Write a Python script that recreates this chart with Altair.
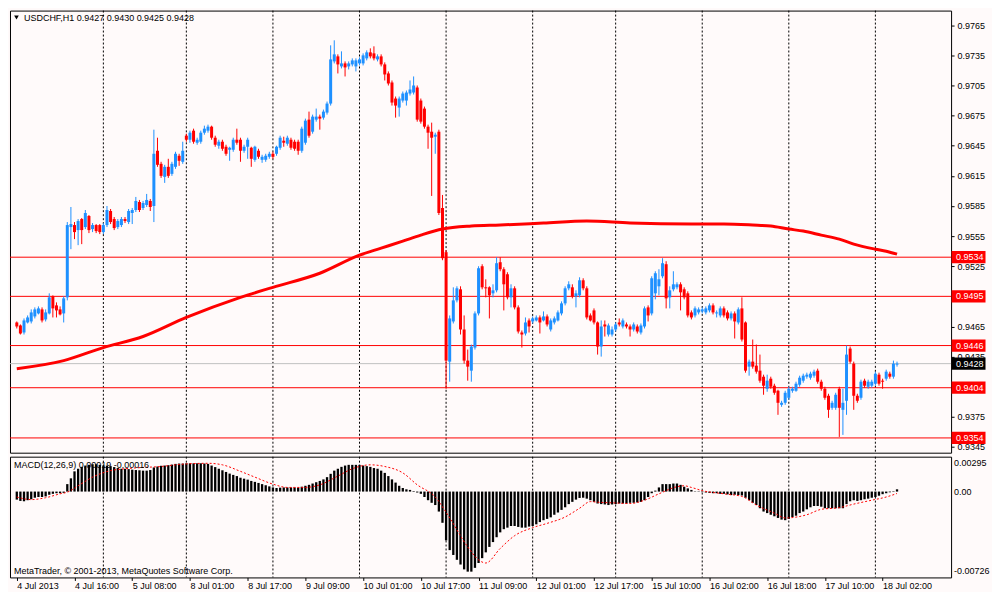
import json
import altair as alt
import pandas as pd

# ---------------- data ----------------
O = [
0.9469,0.9466,0.9459,0.9469,0.9470,0.9475,0.9478,0.9482,0.9472,0.9478,
0.9495,0.9486,0.9482,0.9478,0.9494,0.9564,0.9566,0.9561,0.9572,0.9564,
0.9575,0.9562,0.9566,0.9566,0.9559,0.9566,0.9580,0.9572,0.9564,0.9566,
0.9572,0.9569,0.9578,0.9581,0.9589,0.9583,0.9586,0.9590,0.9585,0.9640,
0.9627,0.9614,0.9624,0.9617,0.9624,0.9635,0.9629,0.9655,0.9651,0.9660,
0.9648,0.9649,0.9658,0.9660,0.9664,0.9653,0.9645,0.9649,0.9644,0.9641,
0.9641,0.9651,0.9651,0.9640,0.9644,0.9643,0.9631,0.9640,0.9631,0.9631,
0.9634,0.9637,0.9637,0.9643,0.9650,0.9647,0.9651,0.9649,0.9649,0.9640,
0.9648,0.9671,0.9659,0.9671,0.9674,0.9673,0.9678,0.9687,0.9729,0.9734,
0.9724,0.9727,0.9724,0.9726,0.9724,0.9727,0.9727,0.9732,0.9738,0.9737,
0.9731,0.9734,0.9726,0.9717,0.9708,0.9692,0.9683,0.9690,0.9690,0.9697,
0.9698,0.9703,0.9690,0.9682,0.9664,0.9659,0.9654,0.9659,0.9583,0.9539,
0.9430,0.9470,0.9491,0.9502,0.9462,0.9431,0.9421,0.9444,0.9478,0.9525,
0.9504,0.9504,0.9498,0.9501,0.9529,0.9522,0.9517,0.9494,0.9503,0.9484,
0.9459,0.9458,0.9471,0.9470,0.9471,0.9474,0.9471,0.9475,0.9462,0.9469,
0.9471,0.9478,0.9488,0.9503,0.9504,0.9495,0.9496,0.9511,0.9503,0.9476,
0.9481,0.9469,0.9445,0.9467,0.9457,0.9457,0.9462,0.9469,0.9465,0.9467,
0.9465,0.9462,0.9465,0.9459,0.9465,0.9484,0.9478,0.9498,0.9505,0.9515,
0.9527,0.9494,0.9502,0.9504,0.9507,0.9502,0.9498,0.9479,0.9476,0.9479,
0.9480,0.9479,0.9481,0.9486,0.9478,0.9476,0.9483,0.9479,0.9473,0.9478,
0.9469,0.9483,0.9469,0.9425,0.9430,0.9426,0.9421,0.9415,0.9403,0.9413,
0.9406,0.9401,0.9387,0.9389,0.9394,0.9401,0.9401,0.9407,0.9411,0.9415,
0.9414,0.9416,0.9421,0.9410,0.9403,0.9396,0.9384,0.9384,0.9403,0.9382,
0.9391,0.9443,0.9428,0.9396,0.9394,0.9411,0.9405,0.9406,0.9408,0.9417,
0.9411,0.9413,0.9418,0.9415,0.9427]
H = [
0.9470,0.9467,0.9473,0.9476,0.9482,0.9484,0.9485,0.9484,0.9482,0.9498,
0.9496,0.9489,0.9485,0.9495,0.9569,0.9584,0.9569,0.9572,0.9573,0.9581,
0.9576,0.9568,0.9567,0.9567,0.9568,0.9585,0.9582,0.9574,0.9572,0.9574,
0.9574,0.9582,0.9583,0.9594,0.9591,0.9590,0.9597,0.9592,0.9661,0.9653,
0.9629,0.9626,0.9632,0.9629,0.9639,0.9637,0.9649,0.9657,0.9660,0.9662,
0.9653,0.9660,0.9665,0.9666,0.9665,0.9655,0.9651,0.9651,0.9646,0.9644,
0.9653,0.9662,0.9653,0.9646,0.9653,0.9644,0.9645,0.9642,0.9636,0.9637,
0.9639,0.9639,0.9645,0.9655,0.9654,0.9655,0.9653,0.9651,0.9651,0.9664,
0.9672,0.9679,0.9676,0.9682,0.9676,0.9681,0.9689,0.9745,0.9750,0.9736,
0.9739,0.9729,0.9729,0.9732,0.9732,0.9733,0.9737,0.9740,0.9742,0.9744,
0.9736,0.9736,0.9728,0.9719,0.9710,0.9694,0.9694,0.9699,0.9700,0.9710,
0.9714,0.9705,0.9692,0.9684,0.9666,0.9668,0.9658,0.9661,0.9596,0.9541,
0.9476,0.9504,0.9505,0.9505,0.9476,0.9442,0.9447,0.9480,0.9525,0.9527,
0.9512,0.9505,0.9507,0.9534,0.9534,0.9524,0.9519,0.9507,0.9505,0.9486,
0.9461,0.9474,0.9473,0.9475,0.9476,0.9476,0.9480,0.9477,0.9473,0.9475,
0.9481,0.9490,0.9505,0.9510,0.9507,0.9501,0.9514,0.9513,0.9505,0.9478,
0.9483,0.9470,0.9471,0.9471,0.9468,0.9465,0.9469,0.9473,0.9473,0.9469,
0.9467,0.9469,0.9467,0.9468,0.9485,0.9486,0.9515,0.9520,0.9522,0.9533,
0.9530,0.9505,0.9520,0.9509,0.9509,0.9504,0.9500,0.9481,0.9485,0.9484,
0.9484,0.9485,0.9488,0.9488,0.9481,0.9485,0.9485,0.9481,0.9480,0.9480,
0.9484,0.9494,0.9470,0.9432,0.9452,0.9447,0.9437,0.9417,0.9417,0.9415,
0.9408,0.9402,0.9391,0.9401,0.9405,0.9405,0.9410,0.9416,0.9418,0.9419,
0.9420,0.9422,0.9423,0.9412,0.9405,0.9398,0.9391,0.9399,0.9405,0.9403,
0.9446,0.9445,0.9430,0.9398,0.9412,0.9413,0.9412,0.9412,0.9420,0.9419,
0.9413,0.9422,0.9420,0.9431,0.9430]
L = [
0.9463,0.9457,0.9457,0.9468,0.9468,0.9473,0.9477,0.9469,0.9470,0.9477,
0.9474,0.9474,0.9476,0.9469,0.9491,0.9542,0.9552,0.9546,0.9547,0.9562,
0.9558,0.9559,0.9558,0.9557,0.9557,0.9564,0.9567,0.9561,0.9562,0.9564,
0.9568,0.9567,0.9567,0.9579,0.9579,0.9581,0.9584,0.9580,0.9569,0.9624,
0.9613,0.9608,0.9613,0.9615,0.9622,0.9625,0.9627,0.9649,0.9648,0.9647,
0.9646,0.9647,0.9656,0.9658,0.9651,0.9644,0.9642,0.9640,0.9635,0.9630,
0.9639,0.9646,0.9629,0.9638,0.9632,0.9624,0.9629,0.9632,0.9628,0.9629,
0.9632,0.9632,0.9635,0.9641,0.9644,0.9645,0.9641,0.9640,0.9636,0.9638,
0.9646,0.9653,0.9657,0.9669,0.9661,0.9671,0.9676,0.9685,0.9727,0.9717,
0.9722,0.9714,0.9721,0.9724,0.9719,0.9725,0.9725,0.9730,0.9732,0.9730,
0.9729,0.9724,0.9710,0.9705,0.9685,0.9673,0.9674,0.9688,0.9685,0.9695,
0.9696,0.9669,0.9667,0.9662,0.9642,0.9595,0.9637,0.9576,0.9531,0.9403,
0.9410,0.9468,0.9489,0.9457,0.9428,0.9411,0.9410,0.9442,0.9476,0.9502,
0.9494,0.9473,0.9494,0.9499,0.9520,0.9481,0.9492,0.9484,0.9482,0.9458,
0.9444,0.9456,0.9459,0.9468,0.9470,0.9458,0.9470,0.9465,0.9460,0.9467,
0.9470,0.9476,0.9486,0.9501,0.9493,0.9484,0.9494,0.9501,0.9472,0.9470,
0.9467,0.9437,0.9435,0.9455,0.9455,0.9455,0.9460,0.9465,0.9463,0.9463,
0.9455,0.9460,0.9458,0.9457,0.9463,0.9470,0.9476,0.9492,0.9496,0.9513,
0.9483,0.9483,0.9500,0.9502,0.9481,0.9492,0.9474,0.9472,0.9474,0.9477,
0.9478,0.9477,0.9479,0.9477,0.9474,0.9474,0.9474,0.9471,0.9471,0.9453,
0.9467,0.9450,0.9419,0.9416,0.9423,0.9418,0.9409,0.9397,0.9400,0.9403,
0.9397,0.9377,0.9385,0.9387,0.9392,0.9399,0.9400,0.9405,0.9409,0.9413,
0.9412,0.9414,0.9408,0.9401,0.9392,0.9374,0.9382,0.9382,0.9355,0.9357,
0.9377,0.9428,0.9382,0.9389,0.9392,0.9404,0.9403,0.9404,0.9406,0.9406,
0.9403,0.9411,0.9413,0.9413,0.9425]
C = [
0.9465,0.9458,0.9471,0.9474,0.9479,0.9482,0.9483,0.9471,0.9479,0.9494,
0.9483,0.9481,0.9477,0.9493,0.9566,0.9567,0.9559,0.9570,0.9561,0.9578,
0.9561,0.9566,0.9560,0.9559,0.9566,0.9581,0.9569,0.9563,0.9570,0.9572,
0.9570,0.9580,0.9581,0.9590,0.9581,0.9588,0.9591,0.9584,0.9637,0.9626,
0.9615,0.9624,0.9615,0.9627,0.9637,0.9630,0.9640,0.9651,0.9658,0.9649,
0.9651,0.9658,0.9662,0.9664,0.9653,0.9646,0.9649,0.9642,0.9637,0.9643,
0.9651,0.9648,0.9640,0.9644,0.9651,0.9632,0.9644,0.9634,0.9634,0.9635,
0.9637,0.9634,0.9644,0.9653,0.9648,0.9653,0.9643,0.9642,0.9640,0.9662,
0.9670,0.9655,0.9674,0.9674,0.9672,0.9679,0.9687,0.9731,0.9736,0.9726,
0.9727,0.9723,0.9727,0.9730,0.9730,0.9731,0.9735,0.9738,0.9734,0.9732,
0.9734,0.9726,0.9716,0.9707,0.9688,0.9685,0.9692,0.9697,0.9698,0.9701,
0.9705,0.9671,0.9669,0.9664,0.9658,0.9653,0.9656,0.9578,0.9533,0.9431,
0.9473,0.9491,0.9503,0.9462,0.9431,0.9425,0.9445,0.9478,0.9523,0.9504,
0.9503,0.9496,0.9501,0.9528,0.9522,0.9507,0.9494,0.9503,0.9484,0.9460,
0.9457,0.9469,0.9465,0.9473,0.9474,0.9469,0.9475,0.9467,0.9471,0.9473,
0.9479,0.9488,0.9503,0.9507,0.9495,0.9498,0.9511,0.9503,0.9474,0.9471,
0.9469,0.9445,0.9465,0.9465,0.9466,0.9462,0.9467,0.9467,0.9471,0.9465,
0.9462,0.9467,0.9460,0.9466,0.9483,0.9476,0.9513,0.9518,0.9512,0.9528,
0.9493,0.9501,0.9507,0.9507,0.9499,0.9494,0.9476,0.9474,0.9483,0.9482,
0.9482,0.9483,0.9486,0.9479,0.9479,0.9483,0.9476,0.9473,0.9478,0.9470,
0.9482,0.9452,0.9421,0.9430,0.9425,0.9420,0.9411,0.9406,0.9411,0.9405,
0.9399,0.9389,0.9389,0.9399,0.9403,0.9403,0.9408,0.9414,0.9416,0.9417,
0.9418,0.9420,0.9410,0.9403,0.9394,0.9382,0.9389,0.9397,0.9384,0.9389,
0.9437,0.9430,0.9396,0.9391,0.9410,0.9406,0.9410,0.9410,0.9418,0.9408,
0.9410,0.9420,0.9415,0.9428,0.9428]

MACD = [
-0.00068,-0.00079,-0.00082,-0.00073,-0.00065,-0.00052,-0.00046,-0.00046,-0.00041,-0.00027,
-0.00019,-0.00014,-0.00014,-0.00011,0.00063,0.00112,0.00171,0.00193,0.00209,0.00220,
0.00226,0.00231,0.00231,0.00226,0.00220,0.00220,0.00215,0.00207,0.00199,0.00193,
0.00193,0.00190,0.00185,0.00182,0.00180,0.00177,0.00177,0.00182,0.00204,0.00212,
0.00218,0.00220,0.00223,0.00228,0.00234,0.00237,0.00237,0.00239,0.00239,0.00239,
0.00239,0.00239,0.00237,0.00234,0.00220,0.00207,0.00193,0.00180,0.00166,0.00152,
0.00141,0.00131,0.00117,0.00109,0.00101,0.00090,0.00082,0.00073,0.00063,0.00054,
0.00044,0.00035,0.00030,0.00033,0.00035,0.00035,0.00035,0.00035,0.00033,0.00041,
0.00049,0.00057,0.00068,0.00079,0.00090,0.00103,0.00122,0.00150,0.00177,0.00193,
0.00209,0.00220,0.00226,0.00226,0.00226,0.00226,0.00220,0.00215,0.00209,0.00199,
0.00193,0.00177,0.00158,0.00131,0.00103,0.00076,0.00049,0.00030,0.00019,0.00014,
0.00005,-0.00008,-0.00019,-0.00046,-0.00073,-0.00095,-0.00114,-0.00169,-0.00264,-0.00413,
-0.00495,-0.00536,-0.00577,-0.00617,-0.00658,-0.00677,-0.00677,-0.00645,-0.00604,-0.00563,
-0.00514,-0.00468,-0.00427,-0.00386,-0.00345,-0.00318,-0.00305,-0.00291,-0.00291,-0.00299,
-0.00305,-0.00305,-0.00296,-0.00291,-0.00277,-0.00258,-0.00242,-0.00231,-0.00218,-0.00196,
-0.00177,-0.00155,-0.00133,-0.00106,-0.00087,-0.00068,-0.00054,-0.00052,-0.00060,-0.00073,
-0.00087,-0.00101,-0.00106,-0.00109,-0.00114,-0.00109,-0.00106,-0.00101,-0.00101,-0.00101,
-0.00095,-0.00095,-0.00092,-0.00087,-0.00073,-0.00046,-0.00014,0.00008,0.00035,0.00063,
0.00063,0.00063,0.00068,0.00068,0.00057,0.00041,0.00027,0.00014,0.00003,-0.00003,
-0.00005,-0.00008,-0.00011,-0.00014,-0.00014,-0.00019,-0.00019,-0.00024,-0.00030,-0.00027,
-0.00030,-0.00033,-0.00052,-0.00073,-0.00095,-0.00114,-0.00141,-0.00169,-0.00182,-0.00196,
-0.00209,-0.00223,-0.00237,-0.00242,-0.00231,-0.00215,-0.00204,-0.00182,-0.00169,-0.00150,
-0.00133,-0.00122,-0.00122,-0.00128,-0.00141,-0.00141,-0.00141,-0.00141,-0.00141,-0.00141,
-0.00106,-0.00082,-0.00073,-0.00079,-0.00073,-0.00065,-0.00060,-0.00052,-0.00046,-0.00035,
-0.00022,-0.00014,-0.00006,0.00004,0.00019]

sig_bars = [0, 4, 8, 12, 14, 17, 21, 26, 30, 35, 40, 44, 49, 53, 57, 62, 66, 71, 75, 80,
            84, 89, 93, 98, 102, 107, 111, 116, 120, 125, 128, 130, 134, 138, 143, 147,
            152, 156, 159, 161, 165, 170, 174, 178, 183, 185, 187, 190, 196, 201, 205,
            210, 213, 219, 223, 228, 232, 237, 241, 244]
sig_vals = [-0.00046, -0.00068, -0.00052, -0.00019, -0.00005, 0.00049, 0.00122, 0.00177,
            0.00193, 0.00204, 0.00212, 0.00226, 0.00237, 0.00239, 0.00226, 0.00171, 0.00122,
            0.00063, 0.00035, 0.00035, 0.00057, 0.00131, 0.00193, 0.00226, 0.00212, 0.00158,
            0.00057, -0.00046, -0.00223, -0.00468, -0.00577, -0.00604, -0.00481, -0.00373,
            -0.00305, -0.00269, -0.00215, -0.00141, -0.00085, -0.00090, -0.00095, -0.00101,
            -0.00073, -0.00019, 0.00041, 0.00049, 0.00035, 0.00008, -0.00019, -0.00041,
            -0.00114, -0.00182, -0.00223, -0.00196, -0.00150, -0.00136, -0.00106, -0.00073,
            -0.00046, -0.00016]

ma_bars = [0, 13, 24, 35, 47, 62, 71, 84, 95, 101, 107, 112, 118, 126, 134, 146, 158, 170,
           187, 196, 204, 209, 214, 218, 223, 228, 232, 238, 241, 244]
ma_vals = [0.9423, 0.9431, 0.9444, 0.9455, 0.9474, 0.9494, 0.9504, 0.9518, 0.9536, 0.9543,
           0.9550, 0.9556, 0.9562, 0.9565, 0.9566, 0.9568, 0.9570, 0.9568, 0.9567, 0.9567,
           0.9566, 0.9565, 0.9562, 0.9560, 0.9556, 0.9552, 0.9547, 0.9542, 0.9540, 0.9537]

levels = [0.9534, 0.9495, 0.9446, 0.9404, 0.9354]
current_price = [0.9428]
price_ticks = [0.9345, 0.9375, 0.9405, 0.9435, 0.9465, 0.9495, 0.9525, 0.9555,
               0.9585, 0.9615, 0.9645, 0.9675, 0.9705, 0.9735, 0.9765]
day_bars = [24, 47, 71, 95, 119, 143, 166, 190, 214, 238]
label_bars = [0, 16, 32, 48, 64, 80, 96, 112, 128, 144, 160, 176, 192, 208, 224, 240]
label_texts = ["4 Jul 2013", "4 Jul 16:00", "5 Jul 08:00", "8 Jul 01:00", "8 Jul 17:00",
               "9 Jul 09:00", "10 Jul 01:00", "10 Jul 17:00", "11 Jul 09:00", "12 Jul 01:00",
               "12 Jul 17:00", "15 Jul 10:00", "16 Jul 02:00", "16 Jul 18:00", "17 Jul 10:00",
               "18 Jul 02:00"]
macd_marks = [0.00295, 0.0, -0.00726]
macd_mark_texts = ["0.00295", "0.00", "-0.00726"]
title_text = "USDCHF,H1  0.9427 0.9430 0.9425 0.9428"
macd_title = "MACD(12,26,9) 0.00019 -0.00016"
copyright_text = "MetaTrader, \u00a9 2001-2013, MetaQuotes Software Corp."

# ---------------- styling ----------------
W, H1, H2 = 943, 443, 121
FONT = "Liberation Sans, Arial, sans-serif"
FS = 9
BG = "#FFFAFA"
UP, DOWN = "#1E90FF", "#FF0000"

n = len(C)
df = pd.DataFrame({"bar": list(range(n)), "open": O, "high": H, "low": L, "close": C,
                   "macd": MACD,
                   "dir": ["up" if c >= o else "down" for o, c in zip(O, C)]})
ma_df = pd.DataFrame({"bar": ma_bars, "ma": ma_vals})
sig_df = pd.DataFrame({"bar": sig_bars, "sig": sig_vals})
day_df = pd.DataFrame({"bar": day_bars})
lv_df = pd.DataFrame({"level": levels, "txt": [f"{v:.4f}" for v in levels]})
cur_df = pd.DataFrame({"level": current_price, "txt": [f"{v:.4f}" for v in current_price]})

XSC = alt.Scale(domain=[-0.5, 257.6], nice=False, zero=False)
PSC = alt.Scale(domain=[0.93393, 0.97796], nice=False, zero=False)
MSC = alt.Scale(domain=[-0.00726, 0.00295], nice=False, zero=False)

price_axis = alt.Axis(orient="right", values=price_ticks, format=".4f", title=None,
                      domain=False, grid=False, ticks=True, tickSize=3, tickColor="black",
                      labelPadding=3, labelFont=FONT, labelFontSize=FS, labelColor="black",
                      labelOverlap=False, labelFlush=False, labelBound=False)
label_expr = f"{json.dumps(label_texts)}[indexof({json.dumps(label_bars)}, datum.value)]"
time_axis = alt.Axis(orient="bottom", values=label_bars, labelExpr=label_expr, title=None,
                     domain=False, grid=False, ticks=True, tickSize=3, tickColor="black",
                     labelAlign="left", labelBaseline="top", labelPadding=1,
                     labelFont=FONT, labelFontSize=FS, labelColor="black",
                     labelOverlap=False, labelFlush=False, labelBound=False)

xm = alt.X("bar:Q", scale=XSC, axis=None)
color = alt.Color("dir:N", scale=alt.Scale(domain=["up", "down"], range=[UP, DOWN]), legend=None)


def py(field):
    return alt.Y(field, scale=PSC, axis=price_axis)


box_shape = "M-1,-0.36L1,-0.36L1,0.36L-1,0.36Z"

vgrid_main = alt.Chart(day_df).mark_rule(color="black", strokeDash=[2, 2], strokeWidth=1).encode(x=xm)
hl = alt.Chart(lv_df).mark_rule(color="#FF0000", strokeWidth=1).encode(y=py("level:Q"))
cur_line = alt.Chart(cur_df).mark_rule(color="#C0C0C0", strokeWidth=1).encode(y=py("level:Q"))
wicks = alt.Chart(df).mark_rule(strokeWidth=1).encode(x=xm, y=py("low:Q"), y2="high:Q", color=color)
bodies = alt.Chart(df).mark_bar(size=3).encode(x=xm, y=py("open:Q"), y2="close:Q", color=color)
ma_line = alt.Chart(ma_df).mark_line(color="#FF0000", strokeWidth=3, interpolate="monotone").encode(
    x=xm, y=py("ma:Q"))
lv_box = alt.Chart(lv_df).mark_point(shape=box_shape, filled=True, size=1156, color="#FF0000",
                                     opacity=1, strokeWidth=0).encode(
    y=py("level:Q"), x=alt.value(W + 17.5))
lv_txt = alt.Chart(lv_df).mark_text(align="left", baseline="middle", color="white",
                                    font=FONT, fontSize=FS).encode(
    y=py("level:Q"), x=alt.value(W + 5), text="txt:N")
cur_box = alt.Chart(cur_df).mark_point(shape=box_shape, filled=True, size=1156, color="black",
                                       opacity=1, strokeWidth=0).encode(
    y=py("level:Q"), x=alt.value(W + 17.5))
cur_txt = alt.Chart(cur_df).mark_text(align="left", baseline="middle", color="white",
                                      font=FONT, fontSize=FS).encode(
    y=py("level:Q"), x=alt.value(W + 5), text="txt:N")
title_mark = alt.Chart(pd.DataFrame({"t": [title_text]})).mark_text(
    align="left", baseline="middle", color="black", font=FONT, fontSize=FS).encode(
    text="t:N", x=alt.value(14), y=alt.value(7))
tri = alt.Chart(pd.DataFrame({"t": [0]})).mark_point(
    shape="triangle-down", filled=True, size=22, color="black", opacity=1).encode(
    x=alt.value(6.5), y=alt.value(7))

main = alt.layer(vgrid_main, hl, cur_line, wicks, bodies, ma_line,
                 lv_box, lv_txt, cur_box, cur_txt, title_mark, tri).properties(width=W, height=H1)

# ---------------- MACD panel ----------------
xb = alt.X("bar:Q", scale=XSC, axis=time_axis)
vgrid_m = alt.Chart(day_df).mark_rule(color="black", strokeDash=[2, 2], strokeWidth=1).encode(x=xb)
hist = alt.Chart(df).mark_bar(size=2.3, color="black").encode(
    x=xb, y=alt.Y("macd:Q", scale=MSC, axis=None), y2=alt.datum(0))
sig = alt.Chart(sig_df).mark_line(color="#FF0000", strokeDash=[2, 2], strokeWidth=1,
                                  interpolate="monotone").encode(
    x=xb, y=alt.Y("sig:Q", scale=MSC, axis=None))
mt = alt.Chart(pd.DataFrame({"t": [macd_title]})).mark_text(
    align="left", baseline="middle", color="black", font=FONT, fontSize=FS).encode(
    text="t:N", x=alt.value(4), y=alt.value(8))
cp = alt.Chart(pd.DataFrame({"t": [copyright_text]})).mark_text(
    align="left", baseline="middle", color="black", font=FONT, fontSize=FS).encode(
    text="t:N", x=alt.value(4), y=alt.value(H2 - 6))
mlabels = []
for v, t, d in zip(macd_marks, macd_mark_texts, [6, 0, -6]):
    mlabels.append(alt.Chart(pd.DataFrame({"v": [v], "t": [t]})).mark_text(
        align="left", baseline="middle", color="black", font=FONT, fontSize=FS, dy=d).encode(
        y=alt.Y("v:Q", scale=MSC, axis=None), x=alt.value(W + 3), text="t:N"))

macd = alt.layer(vgrid_m, hist, sig, mt, cp, *mlabels).properties(width=W, height=H2)

chart = alt.vconcat(main, macd, spacing=2).properties(
    background=BG, padding={"left": 1, "top": 1, "right": 1, "bottom": 0}
).configure_view(stroke="black", strokeWidth=1, fill=BG)

chart.save("out.html", embed_options={"renderer": "svg", "actions": False})
